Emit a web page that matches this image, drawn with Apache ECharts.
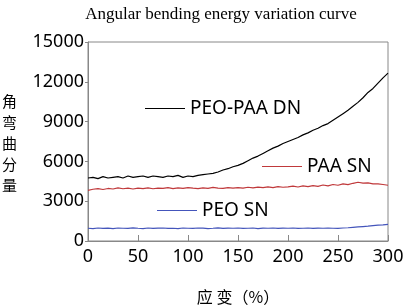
<!DOCTYPE html>
<html><head><meta charset="utf-8">
<script src="https://cdn.jsdelivr.net/npm/echarts@6/dist/echarts.min.js"></script>
<style>html,body{margin:0;padding:0;background:#fff}#c{width:410px;height:307px}</style>
</head><body><div id="c"></div>
<script>
var strain = [0,5,10,15,20,25,30,35,40,45,50,55,60,65,70,75,80,85,90,95,100,105,110,115,120,125,130,135,140,145,150,155,160,165,170,175,180,185,190,195,200,205,210,215,220,225,230,235,240,245,250,255,260,265,270,275,280,285,290,295,300];
var peoPaaDN = [4750,4800,4700,4850,4750,4800,4850,4750,4900,4800,4850,4900,4800,4900,4850,4800,4900,4850,4950,4800,4900,4850,4950,5000,5050,5100,5200,5350,5450,5600,5700,5850,6050,6250,6400,6600,6800,7000,7150,7350,7500,7650,7800,8000,8150,8350,8500,8700,8850,9100,9350,9600,9850,10150,10450,10800,11200,11500,11900,12300,12650];
var paaSN = [3820,3900,3950,3880,3960,3920,4000,3940,3980,3920,3990,3950,4010,3940,3990,3960,4020,3950,4000,3960,4030,3980,3950,4010,3970,4040,3990,3960,4020,3990,4030,3980,4050,4000,4060,4020,4080,4030,4100,4050,4080,4130,4070,4150,4100,4180,4120,4220,4150,4260,4200,4300,4250,4350,4430,4360,4380,4310,4300,4260,4200];
var peoSN = [960,940,980,950,970,940,980,960,950,990,960,940,980,950,970,980,950,960,940,980,960,950,980,970,940,960,990,950,970,960,980,950,960,980,940,970,960,980,950,970,960,980,950,960,980,950,970,960,980,960,950,980,1000,1030,1060,1090,1120,1160,1190,1220,1260];
var xTicks = [0,50,100,150,200,250,300];
var yTicks = [0,3000,6000,9000,12000,15000];
var seriesNames = ['PEO-PAA DN','PAA SN','PEO SN'];
var colors = ['#000000','#c0393b','#4455bb'];

function pairs(v){ return strain.map(function(x,i){ return [x, v[i]]; }); }
var chart = echarts.init(document.getElementById('c'));
var legendPos = [[140,94],[257,152],[152,196]];
chart.setOption({
  animation:false,
  title:{text:'Angular bending energy variation curve', left:216, top:1, textAlign:'center',
    textStyle:{fontFamily:'Liberation Serif', fontWeight:'normal', fontSize:17, color:'#000'}},
  grid:{left:88, right:22, top:42, bottom:66, show:true, borderColor:'#888', borderWidth:1, outerBoundsMode:'none', containLabel:false},
  legend: seriesNames.map(function(n,i){ return {data:[n], left:legendPos[i][0], top:legendPos[i][1], itemWidth:40, itemHeight:1, itemGap:8,
    icon:'rect', textStyle:{fontFamily:'Noto Sans', fontSize:19, color:'#000'}, selectedMode:false}; }),
  xAxis:{type:'value', min:0, max:300, interval:50,
    axisLine:{lineStyle:{color:'#888'}}, axisTick:{inside:true, length:6, lineStyle:{color:'#888'}},
    splitLine:{show:false},
    axisLabel:{fontFamily:'Noto Sans', fontSize:18, color:'#000', margin:7},
    name:'应 变（%）', nameLocation:'middle', nameGap:48,
    nameTextStyle:{fontFamily:'Noto Sans CJK SC', fontSize:16, color:'#000'}},
  yAxis:{type:'value', min:0, max:15000, interval:3000,
    axisLine:{show:true, lineStyle:{color:'#888'}}, axisTick:{show:true, inside:false, length:3, lineStyle:{color:'#888'}},
    splitLine:{show:false},
    axisLabel:{fontFamily:'Noto Sans', fontSize:18, color:'#000', margin:4, formatter:function(v){return String(v);}}},
  graphic:[{type:'text', left:2, top:91, style:{text:'角\n弯\n曲\n分\n量', font:'15px "Noto Sans CJK SC"', lineHeight:21, fill:'#000'}}],
  series: [peoPaaDN, paaSN, peoSN].map(function(v,i){ return {name:seriesNames[i], type:'line', data:pairs(v), showSymbol:false, smooth:false,
    lineStyle:{width:1.2, color:colors[i]}, itemStyle:{color:colors[i]}}; })
});
</script></body></html>
